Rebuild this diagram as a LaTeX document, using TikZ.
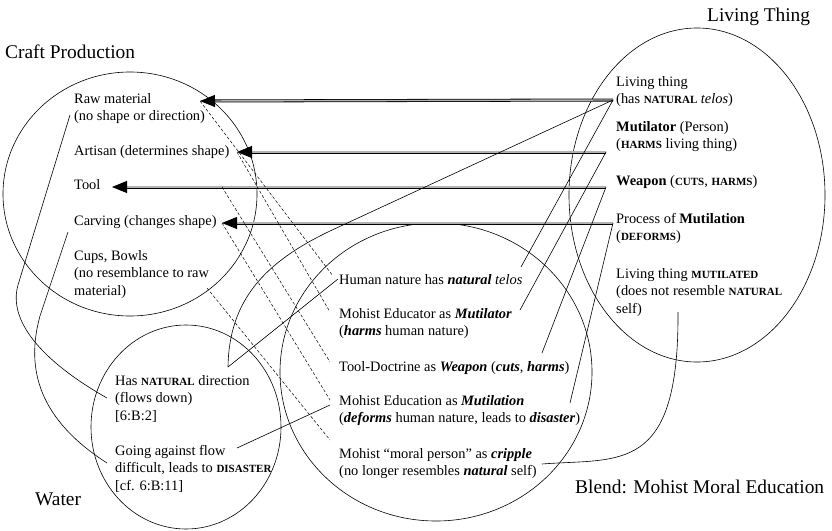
\documentclass[tikz,border=0pt]{standalone}
\usepackage{fontspec}
\setmainfont{Liberation Serif}
\usetikzlibrary{arrows.meta}
\newcommand{\ksc}[1]{{\fontsize{11}{12}\selectfont\bfseries #1}}
\newcommand{\bi}[1]{\textbf{\textit{#1}}}

\begin{document}
\begin{tikzpicture}[x=1pt,y=-1pt,
	txt/.style={anchor=north west,inner sep=0pt,align=left,font=\fontsize{14.4}{17.5}\selectfont},
	ttl/.style={anchor=base west,inner sep=0pt,font=\fontsize{19.4}{23}\selectfont},
	spc/.style={line width=0.6pt},
	dbl/.style={line width=0.8pt,double=gray!60,double distance=1.4pt,-{Triangle[length=15pt,width=12pt]}},
	dsh/.style={line width=0.5pt,dash pattern=on 3pt off 2pt},
	lnk/.style={line width=0.6pt}]
						\useasboundingbox (0,0) rectangle (832,530);

						\draw[spc] (130,194) ellipse [x radius=127, y radius=122];
						\draw[spc] (697,195) ellipse [x radius=128, y radius=167];
						\draw[spc] (186,427) ellipse [x radius=95, y radius=102];
						\draw[spc] (436,372) ellipse [x radius=156, y radius=149];

						\node[ttl] (craftT) at (5,58.5) {Craft Production};
						\node[ttl] (livingT) at (707,21.5) {Living Thing};
						\node[ttl] (waterT) at (35,505.5) {Water};
						\node[ttl] (blendT) at (575,493.5) {Blend: Mohist Moral Education};

						\node[txt] (raw) at (74,93) {Raw material\\(no shape or direction)};
						\node[txt] (artisan) at (74,145) {Artisan (determines shape)};
						\node[txt] (tool) at (74,179) {Tool};
						\node[txt] (carving) at (74,215) {Carving (changes shape)};
						\node[txt] (cups) at (74,250) {Cups, Bowls\\(no resemblance to raw\\material)};

						\node[txt] (lt1) at (616,76) {Living thing\\(has \ksc{NATURAL} \textit{telos})};
						\node[txt] (lt2) at (616,121) {\textbf{Mutilator} (Person)\\(\ksc{HARMS} living thing)};
						\node[txt] (lt3) at (616,175) {\textbf{Weapon} (\ksc{CUTS}, \ksc{HARMS})};
						\node[txt] (lt4) at (616,213) {Process of \textbf{Mutilation}\\(\ksc{DEFORMS})};
						\node[txt] (lt5) at (616,268) {Living thing \ksc{MUTILATED}\\(does not resemble \ksc{NATURAL}\\self)};

						\node[txt] (hum) at (339,274) {Human nature has \bi{natural} \textit{telos}};
						\node[txt] (edu) at (339,308) {Mohist Educator as \bi{Mutilator}\\(\bi{harms} human nature)};
						\node[txt] (doc) at (339,361) {Tool-Doctrine as \bi{Weapon} (\bi{cuts}, \bi{harms})};
						\node[txt] (educ) at (339,395) {Mohist Education as \bi{Mutilation}\\(\bi{deforms} human nature, leads to \bi{disaster})};
						\node[txt] (crip) at (339,448) {Mohist ``moral person'' as \bi{cripple}\\(no longer resembles \bi{natural} self)};

						\node[txt] (wnat) at (115,375) {Has \ksc{NATURAL} direction\\(flows down)\\{[6:B:2]}};
						\node[txt] (wflow) at (115,445) {Going against flow\\difficult, leads to \ksc{DISASTER}\\{[cf. 6:B:11]}};

						\coordinate (LT1) at (613,100);
						\coordinate (LT2) at (606,152);
						\coordinate (LT3) at (606,187);
						\coordinate (LT4) at (613,223);
						\coordinate (LT5) at (678,312);

						\coordinate (RAW) at (200,101);
						\coordinate (ART) at (237,152);
						\coordinate (TOOL) at (112,187);
						\coordinate (TOOLD) at (222,187);
						\coordinate (CARV) at (222,223);
						\coordinate (CUPS) at (207,288);
						\coordinate (RAWL) at (70,115);
						\coordinate (CARVL) at (68,232);

						\coordinate (HUMR) at (521,267);
						\coordinate (EDUR) at (520,310);
						\coordinate (DOCR) at (542,353);
						\coordinate (EDUCR) at (570,403);
						\coordinate (CRIPR) at (542,464);

						\coordinate (HUML) at (333,276);
						\coordinate (HUMW) at (338,279);
						\coordinate (EDUL) at (330,312);
						\coordinate (DOCL) at (330,362);
						\coordinate (EDUCL) at (330,400);
						\coordinate (EDUCW) at (330,405);
						\coordinate (CRIPL) at (330,440);

						\coordinate (WNAT) at (228,367);
						\coordinate (WNATL) at (107,398);
						\coordinate (WFLOW) at (237,448);
						\coordinate (WFLOWL) at (107,463);

						\draw[dbl] (LT1) -- (RAW);
						\draw[dbl] (LT2) -- (ART);
						\draw[dbl] (LT3) -- (TOOL);
						\draw[dbl] (LT4) -- (CARV);

						\draw[dsh] (RAW) -- (HUML);
						\draw[dsh] (ART) -- (EDUL);
						\draw[dsh] (TOOLD) -- (DOCL);
						\draw[dsh] (CARV) -- (EDUCL);
						\draw[dsh] (CUPS) -- (CRIPL);

						\draw[lnk] (LT1) -- (HUMR);
						\draw[lnk] (LT2) -- (EDUR);
						\draw[lnk] (LT3) -- (DOCR);
						\draw[lnk] (LT4) -- (EDUCR);
						\draw[lnk] (LT5) .. controls (679,475) and (620,458) .. (CRIPR);

						\draw[lnk] (LT1) -- (330,231) .. controls (265,262) and (229,300) .. (WNAT);
						\draw[lnk] (WNAT) -- (HUMW);
						\draw[lnk] (WFLOW) -- (EDUCW);

						\draw[lnk] (RAWL) -- (18,285) .. controls (8,320) and (40,360) .. (WNATL);
						\draw[lnk] (CARVL) -- (40,316) .. controls (25,370) and (40,420) .. (WFLOWL);
					\end{tikzpicture}
\end{document}
